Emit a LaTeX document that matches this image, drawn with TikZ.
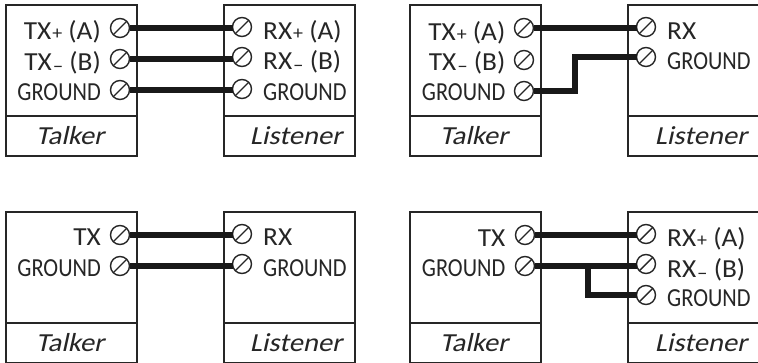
\documentclass[tikz,border=0pt]{standalone}
\usepackage{fontspec}
\setmainfont{Carlito}[FakeStretch=0.86]
\newfontfamily\slantfont{Carlito}[FakeSlant=0.22,FakeStretch=1.1]
\newfontfamily\widefont{Carlito}[FakeStretch=1.05]
\newcommand{\plusmark}{{\fontsize{19}{19}\selectfont\hspace{1pt}+}}
\newcommand{\minusmark}{{\fontsize{20}{20}\selectfont\hspace{1pt}\raisebox{-2pt}{–}}}
\tikzset{
  x=1pt,y=-1pt,
  device/.style={draw=black!85,line width=1.2pt,rectangle,anchor=north west,inner sep=0pt,outer sep=0pt},
  screw/.style={circle,draw=black!85,line width=1.4pt,minimum size=19pt,inner sep=0pt,outer sep=0pt,fill=white,
    path picture={\draw[black!85,line width=1.4pt] (path picture bounding box.south west) -- (path picture bounding box.north east);}},
  tlabel/.style={anchor=base east,inner sep=0pt,font=\fontsize{26}{26}\selectfont,text=black!85},
  rlabel/.style={anchor=base west,inner sep=0pt,font=\fontsize{26}{26}\selectfont,text=black!85},
  twide/.style={tlabel,font=\fontsize{26}{26}\widefont},
  rwide/.style={rlabel,font=\fontsize{26}{26}\widefont},
  role/.style={anchor=base,inner sep=0pt,font=\fontsize{26}{26}\slantfont,text=black!85},
  wire/.style={line width=5.5pt,draw=black!90,line join=miter},
}
\newcommand{\devbox}[5]{% name, x, y, width, height of upper
  \node[device,minimum width=#4pt,minimum height=#5pt] (#1up) at (#2,#3) {};
  \node[device,minimum width=#4pt,minimum height=40pt,anchor=north west] (#1lo) at (#1up.south west) {};
}
\begin{document}
\begin{tikzpicture}
\useasboundingbox (0,0) rectangle (758,362);
\fill[white] (0,0) rectangle (758,362);
% boxes
\devbox{ta}{6}{5}{131}{111}
\devbox{la}{224}{5}{131}{111}
\devbox{tb}{410}{5}{131}{111}
\devbox{lb}{628}{5}{140}{111}
\devbox{tc}{6}{212}{131}{111}
\devbox{lc}{224}{212}{131}{111}
\devbox{td}{410}{212}{131}{111}
\devbox{ld}{628}{212}{140}{111}
% screws
\node[screw] (ta1) at (120,28) {};
\node[screw] (ta2) at (120,59) {};
\node[screw] (ta3) at (120,90) {};
\node[screw] (la1) at (242,27) {};
\node[screw] (la2) at (242,57) {};
\node[screw] (la3) at (242,89) {};
\node[screw] (tb1) at (524,28) {};
\node[screw] (tb2) at (524,60) {};
\node[screw] (tb3) at (524,91) {};
\node[screw] (lb1) at (646,27) {};
\node[screw] (lb2) at (646,57) {};
\node[screw] (tc1) at (120,235) {};
\node[screw] (tc2) at (120,266) {};
\node[screw] (lc1) at (242,234) {};
\node[screw] (lc2) at (242,264) {};
\node[screw] (td1) at (525,235) {};
\node[screw] (td2) at (525,266) {};
\node[screw] (ld1) at (646,234) {};
\node[screw] (ld2) at (646,264) {};
\node[screw] (ld3) at (646,295) {};
% wires
\draw[wire] (ta1.east) -- (ta1.east -| la1.west);
\draw[wire] (ta2.east) -- (ta2.east -| la2.west);
\draw[wire] (ta3.east) -- (ta3.east -| la3.west);
\draw[wire] (tb1.east) -- (tb1.east -| lb1.west);
\coordinate (elbow) at (575,91);
\draw[wire] (tb3.east) -- (elbow) |- (lb2.west);
\draw[wire] (tc1.east) -- (tc1.east -| lc1.west);
\draw[wire] (tc2.east) -- (tc2.east -| lc2.west);
\draw[wire] (td1.east) -- (td1.east -| ld1.west);
\draw[wire] (td2.east) -- (td2.east -| ld2.west);
\coordinate (junction) at (588,266);
\draw[wire] (junction) |- (ld3.west);
% labels
\node[twide] (ta1t) at (101,39.5) {TX\plusmark{} (A)};
\node[twide] (ta2t) at (101,70) {TX\minusmark{} (B)};
\node[tlabel] (ta3t) at (101,100) {GROUND};
\node[rwide] (la1t) at (263,39) {RX\plusmark{} (A)};
\node[rwide] (la2t) at (263,69.5) {RX\minusmark{} (B)};
\node[rlabel] (la3t) at (263,100) {GROUND};
\node[twide] (tb1t) at (505.5,40) {TX\plusmark{} (A)};
\node[twide] (tb2t) at (505.5,70) {TX\minusmark{} (B)};
\node[tlabel] (tb3t) at (505.5,100) {GROUND};
\node[rwide] (lb1t) at (667,39) {RX};
\node[rlabel] (lb2t) at (667,69.5) {GROUND};
\node[twide] (tc1t) at (101,245) {TX};
\node[tlabel] (tc2t) at (101,276) {GROUND};
\node[rwide] (lc1t) at (263,245) {RX};
\node[rlabel] (lc2t) at (263,276) {GROUND};
\node[twide] (td1t) at (505.5,246) {TX};
\node[tlabel] (td2t) at (505.5,276) {GROUND};
\node[rwide] (ld1t) at (667,246) {RX\plusmark{} (A)};
\node[rwide] (ld2t) at (667,277) {RX\minusmark{} (B)};
\node[rlabel] (ld3t) at (667,306) {GROUND};
\node[role] (ta0) at (70,144) {Talker};
\node[role] (la0) at (296,144) {Listener};
\node[role] (tb0) at (474,144) {Talker};
\node[role] (lb0) at (701,144) {Listener};
\node[role] (tc0) at (70,351) {Talker};
\node[role] (lc0) at (296,351) {Listener};
\node[role] (td0) at (474,351) {Talker};
\node[role] (ld0) at (701,351) {Listener};
\end{tikzpicture}
\end{document}
